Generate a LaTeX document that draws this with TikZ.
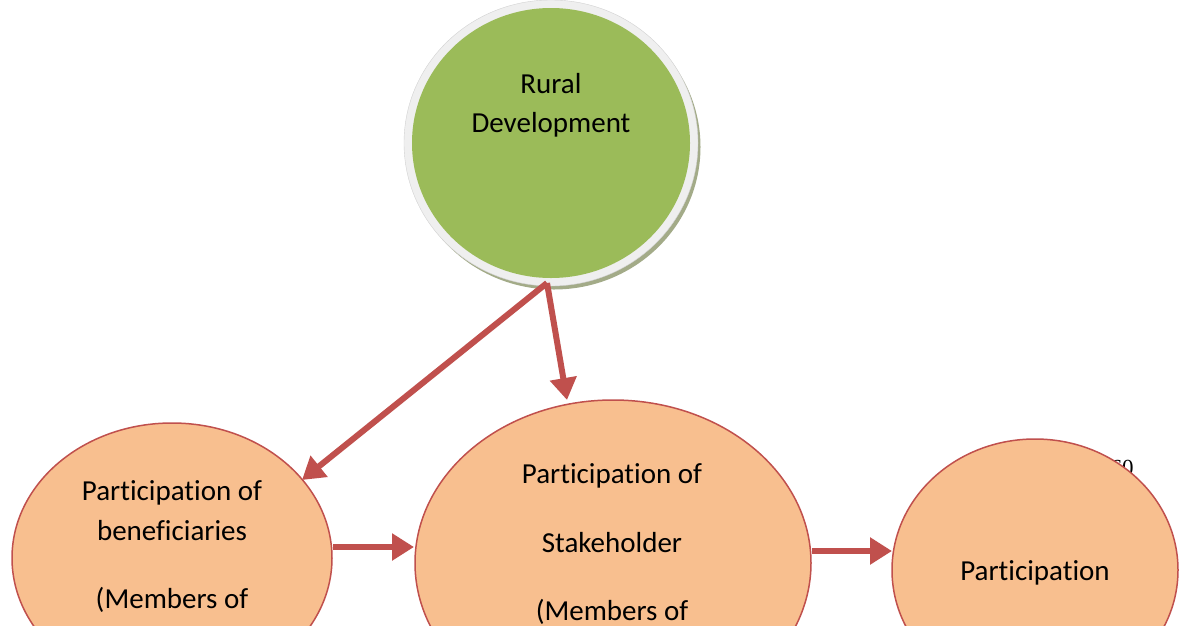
\documentclass[tikz,border=0pt]{standalone}
\usepackage{fontspec}
\setmainfont{Carlito}[Ligatures=NoCommon]
\newfontfamily\seriffont{Liberation Serif}
\usetikzlibrary{shapes.geometric,arrows.meta}
\definecolor{arrred}{HTML}{C0504D}
\definecolor{peach}{HTML}{F8BF8F}
\definecolor{leaf}{HTML}{9BBB59}
\definecolor{ringgray}{HTML}{EFEFEF}
\definecolor{shadowgray}{HTML}{A3AB88}
\tikzset{
  oval/.style={ellipse, inner sep=0pt, outer sep=0pt},
  peachoval/.style={oval, fill=peach, draw=arrred, line width=1.5pt},
  lbl/.style={anchor=base, inner sep=0pt, font=\fontsize{29}{35}\selectfont},
  arr/.style={draw=arrred, line width=6pt, -{Triangle[length=22pt,width=26pt]}, arrred},
}
\begin{document}
\begin{tikzpicture}[x=1pt,y=-1pt]
\useasboundingbox (0,0) rectangle (1181,625);
\clip (0,0) rectangle (1181,625);
\fill[white] (0,0) rectangle (1181,625);

% Rural Development circle
\node[oval, fill=shadowgray, minimum width=293pt, minimum height=285pt] (Gshadow) at (554,147) {};
\node[oval, fill=ringgray, draw=ringgray!88!black, line width=0.4pt, minimum width=294pt, minimum height=286pt] (Gring) at (551,143) {};
\node[oval, fill=leaf, minimum width=278pt, minimum height=270pt] (G) at (551,143) {};
\node[lbl] (g1) at (551,93) {Rural};
\node[lbl] (g2) at (551,132) {Development};

% hidden "60"
\node[anchor=base, inner sep=0pt, font=\seriffont\fontsize{23}{27}\selectfont] (num) at (1122,475) {60};

% lower ellipses
\node[peachoval, minimum width=320pt, minimum height=270pt] (B) at (172,558) {};
\node[lbl] (b1) at (172,500) {Participation of};
\node[lbl] (b2) at (172,540) {beneficiaries};
\node[lbl] (b3) at (172,608) {(Members of};

\node[peachoval, minimum width=396pt, minimum height=326pt] (S) at (613,563) {};
\node[lbl] (s1) at (612,483) {Participation of};
\node[lbl] (s2) at (612,552) {Stakeholder};
\node[lbl] (s3) at (612,620) {(Members of};

\node[peachoval, minimum width=286pt, minimum height=262pt] (P) at (1035,570) {};
\node[lbl] (p1) at (1035,580) {Participation};

% connectors
\coordinate (gfoot) at (547,283);
\coordinate (tipB) at (302,480);
\coordinate (tipS) at (567,400);
\coordinate (bS) at (333,547);
\coordinate (tipBS) at (414,547);
\coordinate (sP) at (812,551);
\coordinate (tipSP) at (892,551);
\draw[arr] (gfoot) -- (tipB);
\draw[arr] (gfoot) -- (tipS);
\draw[arr] (bS) -- (tipBS);
\draw[arr] (sP) -- (tipSP);
\end{tikzpicture}
\end{document}
